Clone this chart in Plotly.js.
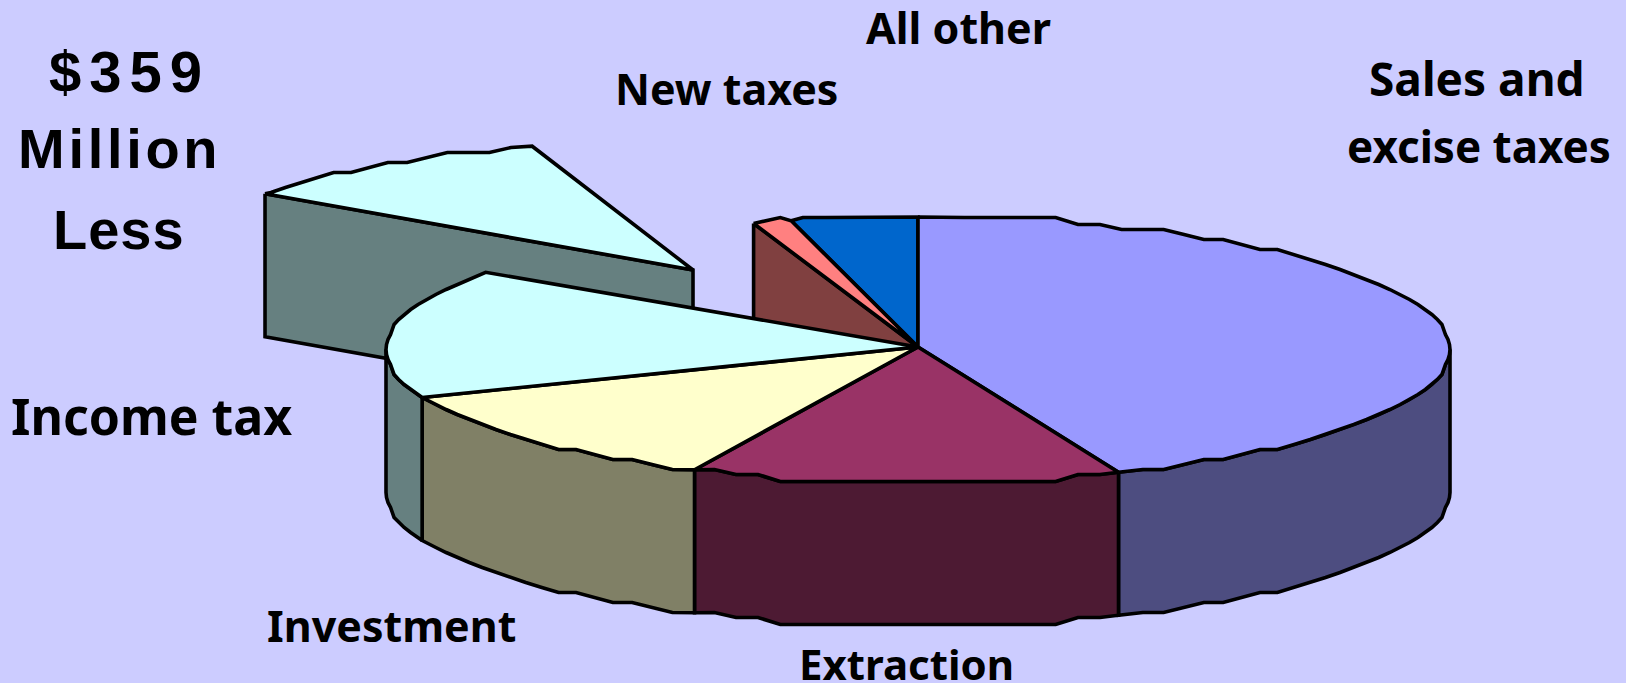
<!DOCTYPE html>
<html>
<head>
<meta charset="utf-8">
<script src="https://cdn.plot.ly/plotly-3.0.1.min.js"></script>
<style>
html,body{margin:0;padding:0;background:#CCCCFF;overflow:hidden}
.annotation[data-index="7"] text{letter-spacing:8px}
.annotation[data-index="8"] text{letter-spacing:3.7px}
.annotation[data-index="9"] text{letter-spacing:1px}
</style>
</head>
<body>
<div id="chart" style="width:1626px;height:683px"></div>
<script>
// Shares of revenue (percent)
var sliceNames = ["Sales and excise taxes","Extraction","Investment","Income tax","Income tax removed","New taxes","All other"];
var sliceShares = [43.85,13.05,12.2,15.8,10.1,1.17,3.83];
var topColours = ["#9999FF","#993366","#FFFFCC","#CCFFFF","#CCFFFF","#FF8080","#0066CC"];
var sideColours = ["#4D4D80","#4D1A33","#808066","#668080","#668080","#804040","#003366"];
var labelTexts = ["All other","New taxes","Sales and","excise taxes","Income tax","Investment","Extraction","$359","Million","Less"];
var labelX = [958,726,1477,1479,151,391,906,129,119,119];
var labelY = [27,88,78,146,416,625,663,71,148,229];
var labelSize = [43,43,46,44,50,43,42,58,56,56];

// Projection of the tilted disc
var cx=918, cy=347, rimDrop=2.5, rx=532, ry=132.5, depth=143;
var ghostDx=-225, ghostDy=-77, ghostTurn=0.8;
var stepDeg=2.5, stepPx=5, lineW=3.6;

function pt(deg,ox,oy,snap){
  var a=deg*Math.PI/180, dy=-ry*Math.cos(a);
  if(snap){
    dy=Math.round(dy/stepPx)*stepPx;
    if(Math.abs(dy)>=130) dy=(dy<0?-1:1)*132;
  }
  return [ox+rx*Math.sin(a), oy+rimDrop+dy];
}
function arc(t0,t1,ox,oy){
  var p=[pt(t0,ox,oy,false)];
  for(var t=Math.ceil(t0/stepDeg+0.3)*stepDeg;t<t1-stepDeg*0.3;t+=stepDeg) p.push(pt(t,ox,oy,true));
  p.push(pt(t1,ox,oy,false));
  return p;
}
function poly(points,fill){
  return {type:"scatter",mode:"lines",x:points.map(function(q){return q[0]}),y:points.map(function(q){return q[1]}),
    fill:"toself",fillcolor:fill,line:{color:"#000",width:lineW,shape:"linear"},hoverinfo:"skip",showlegend:false};
}
function shift(points,d){return points.map(function(q){return [q[0],q[1]+d]})}

var bounds=[0], sum=sliceShares.reduce(function(a,b){return a+b},0);
sliceShares.forEach(function(v){bounds.push(bounds[bounds.length-1]+v/sum*360)});

var traces=[];
// removed slice, pulled out behind the pie
var gx=cx+ghostDx, gy=cy+ghostDy, gA=bounds[4]+ghostTurn, gB=bounds[5]+ghostTurn/2;
var gEdge=pt(gA,gx,gy,false);
traces.push(poly([gEdge,[gx,gy],[gx,gy+depth],[gEdge[0],gEdge[1]+depth],gEdge],sideColours[4]));
traces.push(poly(arc(gA,gB,gx,gy).concat([[gx,gy],pt(gA,gx,gy,false)]),topColours[4]));
// inner wall left by the removed slice
var wEdge=pt(bounds[5],cx,cy,false);
traces.push(poly([wEdge,[cx,cy],[cx,cy+depth],[wEdge[0],wEdge[1]+depth],wEdge],sideColours[5]));
// outer walls (front half only)
[0,1,2,3].forEach(function(i){
  var a=Math.max(bounds[i],90), b=Math.min(bounds[i+1],270);
  if(b<=a) return;
  var top=arc(a,b,cx,cy), bot=shift(top,depth).reverse();
  traces.push(poly(top.concat(bot,[top[0]]),sideColours[i]));
});
// top faces
[6,5,0,1,2,3].forEach(function(i){
  var p=arc(bounds[i],bounds[i+1],cx,cy);
  traces.push(poly(p.concat([[cx,cy],p[0]]),topColours[i]));
});

var annotations=labelTexts.map(function(t,i){
  var family = i>=7 ? "Liberation Sans" : "Noto Sans";
  return {text:"<b>"+t+"</b>",x:labelX[i],y:labelY[i],xref:"x",yref:"y",xanchor:"center",yanchor:"middle",
    showarrow:false,font:{family:family,size:labelSize[i],color:"#000"}};
});

Plotly.newPlot("chart",traces,{
  width:1626,height:683,margin:{l:0,r:0,t:0,b:0,pad:0},
  paper_bgcolor:"#CCCCFF",plot_bgcolor:"#CCCCFF",showlegend:false,
  xaxis:{range:[0,1626],visible:false,fixedrange:true},
  yaxis:{range:[683,0],visible:false,fixedrange:true},
  annotations:annotations
},{displayModeBar:false,staticPlot:true});
</script>
</body>
</html>
